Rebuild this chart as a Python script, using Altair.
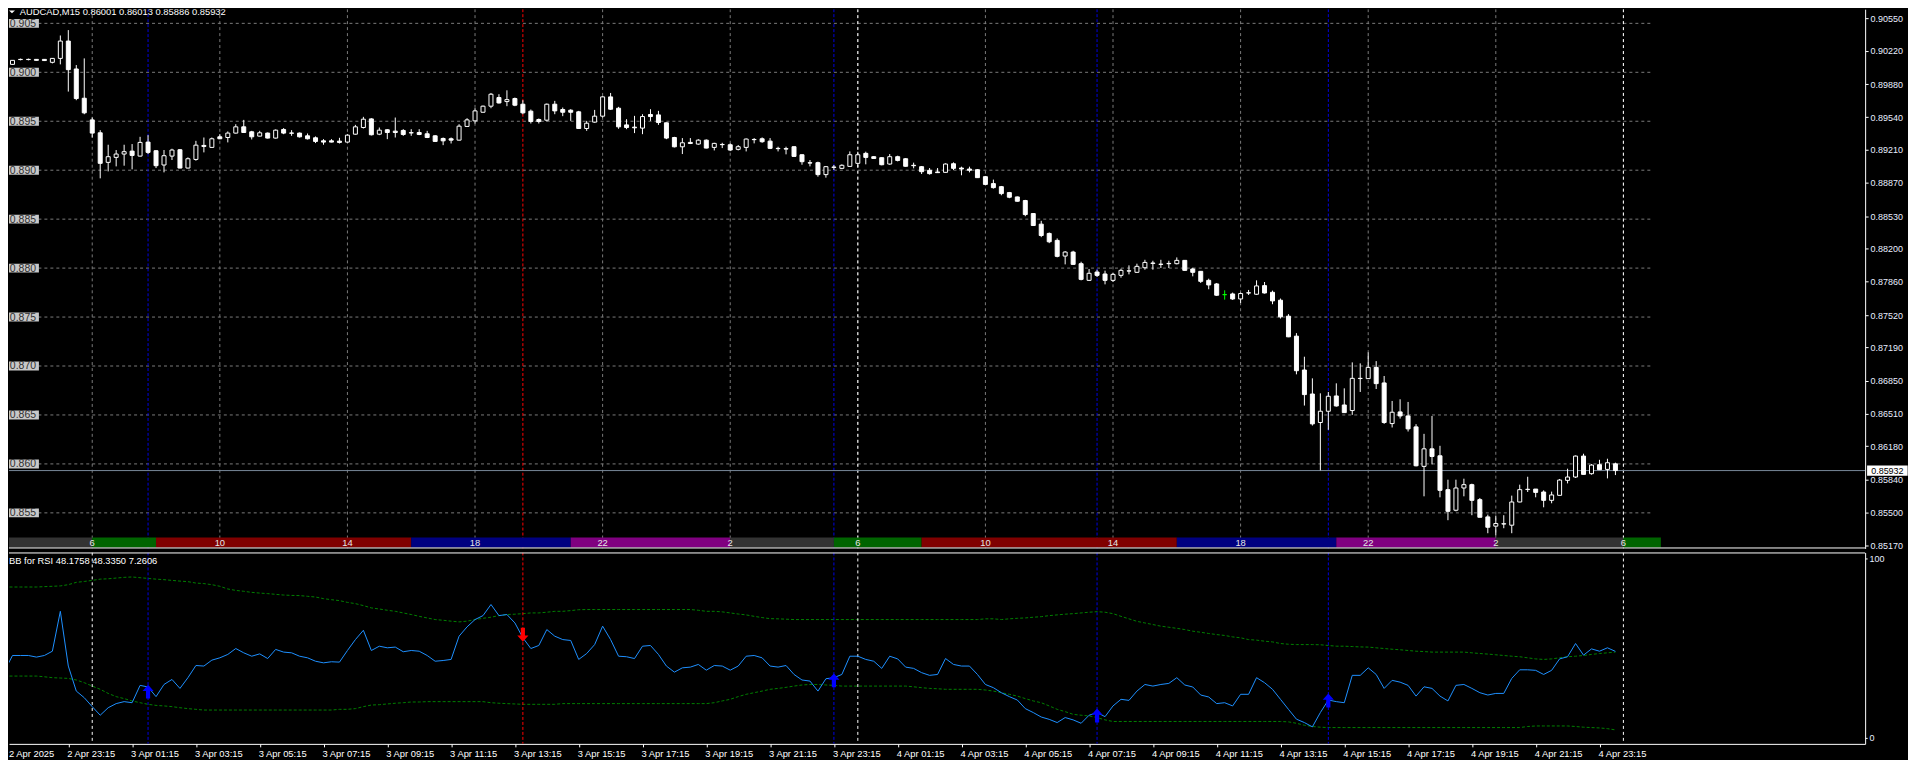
import altair as alt
import pandas as pd

# ---------------- data ----------------
opens = [
0.90115, 0.90081, 0.90130, 0.90132, 0.90132, 0.90132, 0.90102, 0.90142, 0.90319, 0.90034,
0.89735, 0.89514, 0.89382, 0.89080, 0.89131, 0.89165, 0.89195, 0.89144, 0.89287, 0.89199,
0.89053, 0.89144, 0.89209, 0.89022, 0.89110, 0.89253, 0.89233, 0.89341, 0.89334, 0.89379,
0.89443, 0.89392, 0.89348, 0.89379, 0.89328, 0.89416, 0.89380, 0.89379, 0.89351, 0.89331,
0.89300, 0.89300, 0.89297, 0.89287, 0.89368, 0.89436, 0.89524, 0.89368, 0.89413, 0.89399,
0.89406, 0.89383, 0.89385, 0.89372, 0.89351, 0.89324, 0.89321, 0.89307, 0.89447, 0.89504,
0.89592, 0.89654, 0.89742, 0.89701, 0.89732, 0.89674, 0.89603, 0.89518, 0.89511, 0.89674,
0.89620, 0.89613, 0.89596, 0.89426, 0.89491, 0.89552, 0.89749, 0.89633, 0.89463, 0.89440,
0.89430, 0.89569, 0.89565, 0.89484, 0.89334, 0.89239, 0.89284, 0.89267, 0.89307, 0.89233,
0.89263, 0.89260, 0.89213, 0.89233, 0.89314, 0.89321, 0.89297, 0.89223, 0.89220, 0.89240,
0.89158, 0.89076, 0.89077, 0.88955, 0.89029, 0.89019, 0.89039, 0.89070, 0.89172, 0.89138,
0.89128, 0.89063, 0.89138, 0.89117, 0.89050, 0.89036, 0.88999, 0.88982, 0.88978, 0.89066,
0.89022, 0.89012, 0.89005, 0.88934, 0.88863, 0.88832, 0.88771, 0.88727, 0.88690, 0.88557,
0.88449, 0.88354, 0.88283, 0.88123, 0.88164, 0.88045, 0.87875, 0.87960, 0.87940, 0.87875,
0.87926, 0.87970, 0.87957, 0.88004, 0.88048, 0.88040, 0.88045, 0.88045, 0.88079, 0.87991,
0.87967, 0.87875, 0.87838, 0.87729, 0.87736, 0.87685, 0.87746, 0.87733, 0.87821, 0.87753,
0.87672, 0.87509, 0.87305, 0.86959, 0.86714, 0.86423, 0.86538, 0.86694, 0.86602, 0.86545,
0.86874, 0.86871, 0.86986, 0.86827, 0.86412, 0.86531, 0.86490, 0.86378, 0.85975, 0.86154,
0.86083, 0.85737, 0.85527, 0.85754, 0.85788, 0.85635, 0.85459, 0.85364, 0.85386, 0.85374,
0.85611, 0.85738, 0.85743, 0.85713, 0.85628, 0.85679, 0.85832, 0.85866, 0.86080, 0.85900,
0.85992, 0.85944, 0.86001]

highs = [
0.90120, 0.90125, 0.90140, 0.90140, 0.90135, 0.90135, 0.90145, 0.90376, 0.90431, 0.90074,
0.90142, 0.89538, 0.89409, 0.89260, 0.89206, 0.89260, 0.89267, 0.89341, 0.89358, 0.89206,
0.89206, 0.89219, 0.89216, 0.89131, 0.89300, 0.89334, 0.89334, 0.89368, 0.89396, 0.89470,
0.89514, 0.89402, 0.89402, 0.89385, 0.89416, 0.89430, 0.89409, 0.89385, 0.89375, 0.89345,
0.89317, 0.89317, 0.89331, 0.89368, 0.89463, 0.89545, 0.89531, 0.89436, 0.89419, 0.89538,
0.89419, 0.89419, 0.89419, 0.89402, 0.89358, 0.89334, 0.89334, 0.89470, 0.89531, 0.89633,
0.89660, 0.89789, 0.89776, 0.89816, 0.89742, 0.89715, 0.89620, 0.89528, 0.89681, 0.89708,
0.89640, 0.89623, 0.89606, 0.89504, 0.89616, 0.89755, 0.89789, 0.89647, 0.89521, 0.89555,
0.89572, 0.89623, 0.89606, 0.89487, 0.89341, 0.89328, 0.89328, 0.89317, 0.89314, 0.89280,
0.89280, 0.89274, 0.89257, 0.89324, 0.89328, 0.89335, 0.89328, 0.89240, 0.89240, 0.89244,
0.89162, 0.89104, 0.89087, 0.89043, 0.89053, 0.89060, 0.89192, 0.89189, 0.89189, 0.89145,
0.89131, 0.89165, 0.89148, 0.89124, 0.89077, 0.89043, 0.89022, 0.89022, 0.89070, 0.89080,
0.89036, 0.89036, 0.89012, 0.88941, 0.88904, 0.88839, 0.88778, 0.88731, 0.88697, 0.88561,
0.88483, 0.88364, 0.88303, 0.88174, 0.88177, 0.88065, 0.87991, 0.87984, 0.87974, 0.87950,
0.87994, 0.88028, 0.88045, 0.88085, 0.88075, 0.88085, 0.88075, 0.88109, 0.88082, 0.88004,
0.87970, 0.87892, 0.87848, 0.87773, 0.87750, 0.87750, 0.87777, 0.87875, 0.87858, 0.87770,
0.87689, 0.87530, 0.87336, 0.87095, 0.86874, 0.86721, 0.86735, 0.86823, 0.86772, 0.87037,
0.87027, 0.87139, 0.87050, 0.86898, 0.86643, 0.86660, 0.86633, 0.86406, 0.86307, 0.86490,
0.86185, 0.85839, 0.85839, 0.85849, 0.85798, 0.85652, 0.85482, 0.85472, 0.85476, 0.85676,
0.85788, 0.85869, 0.85743, 0.85730, 0.85717, 0.85846, 0.85951, 0.86086, 0.86104, 0.85998,
0.86042, 0.86053, 0.86013]

lows = [
0.90090, 0.90078, 0.90122, 0.90122, 0.90120, 0.90115, 0.90091, 0.90081, 0.89803, 0.89715,
0.89572, 0.89334, 0.88917, 0.88988, 0.89039, 0.89046, 0.89009, 0.89141, 0.89165, 0.89022,
0.88978, 0.89104, 0.89019, 0.89019, 0.89097, 0.89182, 0.89233, 0.89317, 0.89284, 0.89375,
0.89382, 0.89314, 0.89345, 0.89324, 0.89324, 0.89368, 0.89351, 0.89334, 0.89314, 0.89277,
0.89260, 0.89284, 0.89273, 0.89284, 0.89362, 0.89426, 0.89355, 0.89358, 0.89317, 0.89334,
0.89351, 0.89351, 0.89358, 0.89328, 0.89290, 0.89256, 0.89273, 0.89304, 0.89443, 0.89477,
0.89589, 0.89633, 0.89681, 0.89654, 0.89654, 0.89572, 0.89477, 0.89477, 0.89497, 0.89572,
0.89552, 0.89504, 0.89423, 0.89402, 0.89484, 0.89538, 0.89616, 0.89423, 0.89419, 0.89379,
0.89368, 0.89504, 0.89463, 0.89317, 0.89233, 0.89165, 0.89267, 0.89260, 0.89223, 0.89202,
0.89226, 0.89195, 0.89202, 0.89192, 0.89274, 0.89280, 0.89216, 0.89192, 0.89162, 0.89138,
0.89056, 0.89039, 0.88934, 0.88924, 0.89002, 0.89012, 0.89036, 0.89029, 0.89060, 0.89118,
0.89050, 0.89056, 0.89090, 0.89036, 0.89019, 0.88961, 0.88955, 0.88972, 0.88975, 0.89002,
0.88948, 0.88978, 0.88921, 0.88848, 0.88812, 0.88744, 0.88714, 0.88680, 0.88530, 0.88432,
0.88316, 0.88255, 0.88110, 0.88038, 0.88035, 0.87875, 0.87868, 0.87909, 0.87834, 0.87858,
0.87902, 0.87936, 0.87950, 0.87984, 0.87984, 0.88001, 0.88001, 0.88038, 0.87974, 0.87916,
0.87848, 0.87784, 0.87716, 0.87678, 0.87675, 0.87644, 0.87726, 0.87726, 0.87740, 0.87631,
0.87485, 0.87295, 0.86915, 0.86596, 0.86392, 0.85934, 0.86348, 0.86585, 0.86524, 0.86501,
0.86735, 0.86871, 0.86765, 0.86409, 0.86372, 0.86463, 0.86331, 0.85975, 0.85669, 0.85995,
0.85659, 0.85425, 0.85516, 0.85669, 0.85476, 0.85455, 0.85292, 0.85269, 0.85343, 0.85292,
0.85608, 0.85713, 0.85659, 0.85557, 0.85598, 0.85679, 0.85801, 0.85856, 0.85893, 0.85890,
0.85941, 0.85852, 0.85886]

closes = [
0.90100, 0.90122, 0.90132, 0.90130, 0.90122, 0.90120, 0.90142, 0.90319, 0.90027, 0.89732,
0.89586, 0.89379, 0.89070, 0.89138, 0.89165, 0.89189, 0.89151, 0.89284, 0.89182, 0.89046,
0.89148, 0.89206, 0.89022, 0.89117, 0.89256, 0.89243, 0.89321, 0.89321, 0.89379, 0.89443,
0.89385, 0.89341, 0.89382, 0.89328, 0.89409, 0.89379, 0.89378, 0.89341, 0.89321, 0.89294,
0.89287, 0.89287, 0.89284, 0.89358, 0.89443, 0.89521, 0.89362, 0.89409, 0.89385, 0.89385,
0.89365, 0.89381, 0.89365, 0.89334, 0.89294, 0.89300, 0.89307, 0.89450, 0.89514, 0.89606,
0.89654, 0.89776, 0.89687, 0.89721, 0.89664, 0.89586, 0.89497, 0.89497, 0.89674, 0.89606,
0.89592, 0.89592, 0.89426, 0.89480, 0.89552, 0.89749, 0.89623, 0.89443, 0.89436, 0.89433,
0.89548, 0.89548, 0.89487, 0.89328, 0.89239, 0.89280, 0.89273, 0.89307, 0.89226, 0.89274,
0.89261, 0.89206, 0.89240, 0.89318, 0.89312, 0.89291, 0.89223, 0.89220, 0.89216, 0.89141,
0.89087, 0.89073, 0.88955, 0.89036, 0.89032, 0.89050, 0.89158, 0.89158, 0.89131, 0.89120,
0.89056, 0.89138, 0.89100, 0.89040, 0.89046, 0.88985, 0.88965, 0.88975, 0.89063, 0.89019,
0.89012, 0.88999, 0.88924, 0.88855, 0.88822, 0.88761, 0.88724, 0.88683, 0.88547, 0.88435,
0.88333, 0.88269, 0.88120, 0.88164, 0.88038, 0.87885, 0.87947, 0.87926, 0.87875, 0.87936,
0.87977, 0.87972, 0.88018, 0.88058, 0.88052, 0.88038, 0.88048, 0.88079, 0.87977, 0.87957,
0.87865, 0.87828, 0.87723, 0.87729, 0.87685, 0.87740, 0.87748, 0.87818, 0.87746, 0.87665,
0.87502, 0.87298, 0.86952, 0.86708, 0.86409, 0.86538, 0.86691, 0.86592, 0.86524, 0.86874,
0.86872, 0.86986, 0.86820, 0.86423, 0.86528, 0.86490, 0.86358, 0.85981, 0.86154, 0.86076,
0.85730, 0.85516, 0.85754, 0.85788, 0.85628, 0.85455, 0.85353, 0.85391, 0.85389, 0.85611,
0.85737, 0.85741, 0.85709, 0.85628, 0.85683, 0.85835, 0.85866, 0.86080, 0.85893, 0.85988,
0.85941, 0.86012, 0.85932]

rsi = [
37.2, 45.9, 45.9, 45.9, 45.0, 45.9, 48.3, 70.6, 40.0, 26.0,
22.3, 17.3, 12.5, 16.7, 19.0, 20.1, 19.5, 29.2, 28.3, 22.9,
29.7, 32.5, 27.5, 33.5, 40.3, 40.0, 43.3, 44.6, 46.5, 49.8,
47.4, 45.5, 46.8, 44.2, 49.3, 47.8, 47.4, 45.5, 44.6, 42.7,
41.8, 42.4, 42.2, 48.7, 54.8, 60.0, 48.7, 51.1, 50.2, 50.6,
48.0, 48.7, 48.3, 45.9, 42.7, 43.1, 43.7, 56.7, 61.9, 66.0,
68.2, 74.4, 68.2, 68.8, 64.1, 55.8, 49.8, 51.5, 60.4, 56.7,
54.8, 54.3, 43.7, 47.0, 52.0, 62.3, 54.8, 45.5, 45.2, 44.2,
51.1, 51.5, 46.5, 40.0, 36.6, 39.0, 39.4, 40.9, 37.7, 40.3,
40.0, 37.7, 40.0, 45.5, 45.9, 44.6, 40.0, 39.4, 40.3, 35.3,
32.2, 31.6, 26.0, 32.9, 33.5, 35.3, 45.5, 45.5, 43.7, 42.7,
38.7, 45.5, 44.0, 39.4, 38.7, 36.3, 34.8, 35.3, 44.2, 40.9,
40.0, 40.0, 35.3, 29.7, 27.9, 25.1, 22.9, 21.0, 16.2, 14.0,
11.5, 10.2, 8.4, 11.2, 9.9, 8.0, 12.5, 14.0, 11.7, 17.7,
21.4, 20.8, 26.0, 29.7, 28.8, 29.7, 30.3, 33.5, 29.4, 28.3,
23.8, 22.7, 19.0, 19.5, 17.7, 24.2, 24.2, 33.5, 30.7, 27.0,
21.4, 15.8, 10.3, 8.4, 6.0, 14.0, 21.0, 20.1, 19.5, 34.8,
34.8, 39.0, 35.3, 27.5, 32.0, 31.0, 29.2, 23.2, 28.4, 27.5,
23.2, 20.5, 29.2, 29.7, 27.5, 25.1, 23.8, 24.7, 24.7, 33.1,
37.9, 37.9, 37.6, 35.3, 37.6, 44.0, 45.2, 52.6, 46.1, 49.6,
48.3, 50.2, 48.2]

bb_upper = [
84.2, 84.2, 84.2, 84.2, 84.2, 84.4, 84.6, 84.8, 85.5, 86.8,
87.3, 87.9, 88.6, 88.8, 89.2, 89.6, 89.8, 89.4, 89.0, 88.6,
88.3, 87.9, 87.5, 87.2, 86.4, 86.1, 85.5, 84.6, 83.1, 82.3,
81.8, 81.2, 80.8, 80.5, 80.1, 79.7, 79.5, 79.4, 79.0, 78.6,
77.7, 77.1, 76.6, 75.6, 74.9, 73.8, 72.5, 71.9, 71.2, 70.6,
69.7, 68.8, 67.8, 66.9, 66.0, 65.6, 65.1, 64.7, 65.1, 66.0,
66.7, 67.3, 68.2, 68.8, 69.0, 69.3, 69.7, 69.7, 70.1, 70.6,
70.6, 71.0, 71.5, 71.6, 71.6, 71.6, 71.6, 71.6, 71.6, 71.6,
71.6, 71.6, 71.6, 71.6, 71.6, 71.6, 71.6, 71.2, 70.6, 70.6,
70.3, 69.7, 69.1, 68.6, 67.8, 67.1, 66.5, 66.4, 66.2, 66.0,
66.0, 66.0, 66.0, 66.0, 66.0, 66.0, 66.0, 66.0, 66.0, 66.0,
66.0, 66.0, 66.0, 66.0, 66.0, 66.0, 66.0, 66.0, 66.0, 66.0,
66.0, 66.0, 66.0, 66.4, 66.4, 66.0, 66.4, 66.7, 66.9, 67.3,
67.6, 68.2, 68.6, 69.0, 69.3, 69.7, 70.1, 70.4, 70.1, 69.3,
67.8, 66.4, 65.0, 64.1, 63.2, 62.3, 61.7, 61.1, 60.4, 59.5,
58.9, 58.2, 57.6, 57.1, 56.3, 55.8, 54.8, 54.5, 53.9, 53.5,
52.6, 52.2, 52.0, 52.0, 52.0, 51.9, 51.5, 51.1, 51.1, 50.9,
50.7, 50.6, 50.2, 49.8, 49.4, 49.1, 48.7, 48.3, 48.1, 47.8,
47.8, 47.8, 47.8, 47.8, 47.4, 47.0, 46.7, 46.3, 45.9, 45.5,
45.2, 44.6, 44.0, 43.7, 44.0, 44.6, 45.2, 45.5, 45.9, 46.5,
47.0, 47.4, 47.8]

bb_lower = [
34.4, 34.4, 34.4, 34.4, 34.4, 34.0, 33.5, 33.3, 33.1, 32.2,
30.7, 28.8, 27.0, 24.7, 22.9, 21.8, 20.5, 19.5, 18.6, 18.0,
17.7, 17.3, 16.7, 16.2, 15.8, 15.4, 15.4, 15.4, 15.4, 15.4,
15.4, 15.4, 15.4, 15.4, 15.4, 15.4, 15.4, 15.4, 15.4, 15.4,
15.4, 15.4, 15.8, 15.8, 16.2, 17.3, 18.2, 18.4, 18.8, 19.2,
19.5, 19.9, 19.9, 20.1, 20.1, 20.1, 20.1, 20.1, 20.1, 20.1,
20.1, 19.5, 19.2, 19.0, 18.8, 18.6, 18.6, 18.6, 18.6, 18.6,
19.0, 19.0, 19.0, 19.0, 19.0, 19.0, 19.0, 19.0, 19.0, 19.0,
19.0, 19.0, 19.0, 19.0, 19.0, 19.0, 19.0, 19.0, 19.0, 19.5,
20.5, 21.4, 22.9, 24.2, 25.1, 26.0, 27.0, 27.5, 28.1, 28.8,
29.4, 29.7, 29.7, 29.4, 29.2, 28.8, 28.8, 28.8, 28.8, 28.8,
28.8, 28.8, 28.8, 28.8, 28.4, 27.9, 27.5, 27.3, 27.0, 27.0,
27.0, 27.0, 27.0, 26.6, 26.0, 25.1, 24.2, 23.2, 21.8, 20.5,
19.5, 17.7, 15.8, 14.5, 13.0, 12.5, 12.1, 11.2, 9.9, 9.0,
9.0, 9.0, 9.0, 9.0, 9.0, 9.0, 9.0, 9.0, 9.0, 9.0,
9.0, 9.0, 9.0, 9.0, 9.0, 9.0, 9.0, 9.0, 9.0, 9.0,
9.0, 8.8, 8.0, 6.9, 6.2, 5.8, 5.6, 5.6, 5.6, 5.6,
5.6, 5.6, 5.6, 5.6, 5.6, 5.6, 5.6, 5.6, 5.6, 5.6,
5.6, 5.6, 5.6, 5.6, 5.6, 5.6, 5.6, 5.6, 5.6, 5.6,
5.6, 6.2, 6.5, 6.5, 6.5, 6.5, 6.5, 6.2, 5.8, 5.6,
5.4, 5.0, 4.3]

buy_idx = [18, 104, 137, 166]
buy_level = [25.7, 32.0, 12.4, 20.7]
sell_idx = [65]
sell_level = [57.5]

day_sep_idx = [11, 107, 203]
grid_idx = [11, 27, 43, 59, 75, 91, 107, 123, 139, 155, 171, 187, 203]
grid_levels = [0.905, 0.900, 0.895, 0.890, 0.885, 0.880, 0.875, 0.870, 0.865, 0.860, 0.855]
grid_texts = ["0.905", "0.900", "0.895", "0.890", "0.885", "0.880", "0.875", "0.870", "0.865", "0.860", "0.855"]

right_ticks = [0.9055, 0.9022, 0.8988, 0.8954, 0.8921, 0.8887, 0.8853, 0.8820, 0.8786,
               0.8752, 0.8719, 0.8685, 0.8651, 0.8618, 0.8584, 0.8550, 0.8517]
bid_price = 0.85932

sess_start = [-1, 11, 19, 51, 71, 91, 104, 115, 147, 167, 187, 203]
sess_end = [11, 19, 51, 71, 91, 104, 115, 147, 167, 187, 203, 207.7]
sess_color = ["#333333", "#006400", "#800000", "#000080", "#800080", "#333333",
              "#006400", "#800000", "#000080", "#800080", "#333333", "#006400"]
sess_label_idx = grid_idx
sess_label_txt = ["6", "10", "14", "18", "22", "2", "6", "10", "14", "18", "22", "2", "6"]

time_idx = [0, 8, 16, 24, 32, 40, 48, 56, 64, 72, 80, 88, 96, 104, 112, 120, 128,
            136, 144, 152, 160, 168, 176, 184, 192, 200]
time_txt = ["2 Apr 2025", "2 Apr 23:15", "3 Apr 01:15", "3 Apr 03:15", "3 Apr 05:15",
            "3 Apr 07:15", "3 Apr 09:15", "3 Apr 11:15", "3 Apr 13:15", "3 Apr 15:15",
            "3 Apr 17:15", "3 Apr 19:15", "3 Apr 21:15", "3 Apr 23:15", "4 Apr 01:15",
            "4 Apr 03:15", "4 Apr 05:15", "4 Apr 07:15", "4 Apr 09:15", "4 Apr 11:15",
            "4 Apr 13:15", "4 Apr 15:15", "4 Apr 17:15", "4 Apr 19:15", "4 Apr 21:15",
            "4 Apr 23:15"]

title_txt = "AUDCAD,M15  0.86001 0.86013 0.85886 0.85932"
rsi_title = "BB for RSI 48.1758 48.3350 7.2606"

# ---------------- layout ----------------
FONT = "Liberation Sans"
W = 1862
HP = 541
HR = 192
X_MIN = 0.5625
X_MAX = X_MIN + W / 8.0
P_MIN, P_MAX = 0.851362, 0.906447
R_MIN, R_MAX = -3.51, 103.51

xsc = alt.Scale(domain=[X_MIN, X_MAX], nice=False, zero=False)
psc = alt.Scale(domain=[P_MIN, P_MAX], nice=False, zero=False)
rsc = alt.Scale(domain=[R_MIN, R_MAX], nice=False, zero=False)

P_AXIS = alt.Axis(
    orient="right", values=right_ticks, format=".5f", labelFont=FONT,
    labelFontSize=9, labelColor="#E8EEFF", tickColor="#FFFFFF", tickSize=3,
    domainColor="#FFFFFF", domainWidth=1, labelPadding=2, grid=False, title=None,
    labelOverlap=False, labelFlush=False, labelBound=False)
R_AXIS = alt.Axis(
    orient="right", values=[0, 100], format="d", labelFont=FONT, labelFontSize=9,
    labelColor="#E8EEFF", tickColor="#FFFFFF", tickSize=2, domainColor="#FFFFFF",
    domainWidth=1, labelPadding=2, grid=False, title=None, labelOverlap=False,
    labelFlush=False, labelBound=False)
T_AXIS = alt.Axis(
    orient="bottom", values=time_idx[1:], labels=False, tickColor="#FFFFFF", tickSize=3,
    domainColor="#FFFFFF", domainWidth=1, grid=False, title=None)

n = len(opens)
cd = pd.DataFrame({"i": list(range(n)), "o": opens, "h": highs, "l": lows, "c": closes})
cd["x1"] = cd["i"] - 0.25
cd["x2"] = cd["i"] + 0.25
cd["fillc"] = ["#FFFFFF" if c < o else "#000000" for o, c in zip(opens, closes)]
cd["linec"] = ["#00FF00" if c == o else "#FFFFFF" for o, c in zip(opens, closes)]

XP = lambda f: alt.X(f, scale=xsc, axis=None)
XR = lambda f: alt.X(f, scale=xsc, axis=T_AXIS)
YP = lambda f: alt.Y(f, scale=psc, axis=P_AXIS)
YR = lambda f: alt.Y(f, scale=rsc, axis=R_AXIS)

# ---- price panel ----
hgrid = alt.Chart(pd.DataFrame({"p": grid_levels, "a": [-1] * len(grid_levels),
                                "b": [206.7] * len(grid_levels)})).mark_rule(
    color="#7A7A7A", strokeDash=[3, 3], strokeWidth=1, clip=True
).encode(x=XP("a:Q"), x2="b:Q", y=YP("p:Q"))

vgrid = alt.Chart(pd.DataFrame({"i": grid_idx})).mark_rule(
    color="#7A7A7A", strokeDash=[3, 3], strokeWidth=1, clip=True
).encode(x=XP("i:Q"), y=alt.value(0), y2=alt.value(HP))

dsep_p = alt.Chart(pd.DataFrame({"i": day_sep_idx[1:]})).mark_rule(
    color="#FFFFFF", strokeDash=[3, 3], strokeWidth=1, clip=True
).encode(x=XP("i:Q"), y=alt.value(0), y2=alt.value(HP))

sig = pd.DataFrame({"i": buy_idx + sell_idx,
                    "col": ["#0000E0"] * len(buy_idx) + ["#FF0000"] * len(sell_idx)})
sig_p = alt.Chart(sig).mark_rule(strokeDash=[3, 2], strokeWidth=1, clip=True).encode(
    x=XP("i:Q"), y=alt.value(0), y2=alt.value(HP), color=alt.Color("col:N", scale=None))

bid_line = alt.Chart(pd.DataFrame({"p": [bid_price]})).mark_rule(
    color="#778899", strokeWidth=1, clip=True
).encode(y=YP("p:Q"), x=alt.value(0), x2=alt.value(W))

wicks = alt.Chart(cd).mark_rule(strokeWidth=1, clip=True).encode(
    x=XP("i:Q"), y=YP("l:Q"), y2="h:Q", color=alt.Color("linec:N", scale=None))

bodies = alt.Chart(cd).mark_rect(strokeWidth=1, clip=True).encode(
    x=XP("x1:Q"), x2="x2:Q", y=YP("o:Q"), y2="c:Q",
    fill=alt.Fill("fillc:N", scale=None), stroke=alt.Stroke("linec:N", scale=None))

sess = alt.Chart(pd.DataFrame({"a": sess_start, "b": sess_end, "col": sess_color})).mark_rect(
    clip=True).encode(x=XP("a:Q"), x2="b:Q", y=alt.value(530), y2=alt.value(540),
                      fill=alt.Fill("col:N", scale=None))

sess_lab = alt.Chart(pd.DataFrame({"i": sess_label_idx, "t": sess_label_txt})).mark_text(
    font=FONT, fontSize=9.4, color="#E6E6E6", align="center", baseline="middle", clip=True
).encode(x=XP("i:Q"), y=alt.value(535.5), text="t:N")

BOX = "M-1,-0.28 L1,-0.28 L1,0.28 L-1,0.28 Z"
lbox = alt.Chart(pd.DataFrame({"p": grid_levels})).mark_point(
    shape=BOX, size=1024, filled=True, color="#C8C8C8", opacity=1, strokeWidth=0, clip=True
).encode(y=YP("p:Q"), x=alt.value(14))
ltext = alt.Chart(pd.DataFrame({"p": grid_levels, "t": grid_texts})).mark_text(
    font=FONT, fontSize=10.5, color="#303030", align="center", baseline="middle", dy=0.5,
    clip=True).encode(y=YP("p:Q"), x=alt.value(14), text="t:N")

tri = alt.Chart(pd.DataFrame({"t": [title_txt]})).mark_point(
    shape="M-1,-0.5 L1,-0.5 L0,0.5 Z", size=36, filled=True, color="#FFFFFF", opacity=1,
    strokeWidth=0, clip=True).encode(x=alt.value(3), y=alt.value(2.7))
ttl = alt.Chart(pd.DataFrame({"t": [title_txt]})).mark_text(
    font=FONT, fontSize=9.4, color="#FFFFFF", align="left", baseline="alphabetic", clip=True
).encode(x=alt.value(10.75), y=alt.value(6), text="t:N")

pborder = alt.Chart(pd.DataFrame({"p": [bid_price]})).mark_rule(
    color="#FFFFFF", strokeWidth=1).encode(y=alt.value(HP - 0.5), x=alt.value(0), x2=alt.value(W))

BIDBOX = "M-1,-0.25 L1,-0.25 L1,0.25 L-1,0.25 Z"
bidbox = alt.Chart(pd.DataFrame({"p": [bid_price]})).mark_point(
    shape=BIDBOX, size=1656, filled=True, color="#FFFFFF", opacity=1, strokeWidth=0
).encode(y=YP("p:Q"), x=alt.value(W + 22.3))
bidtxt = alt.Chart(pd.DataFrame({"p": [bid_price], "t": ["%.5f" % bid_price]})).mark_text(
    font=FONT, fontSize=9, color="#000000", align="center", baseline="middle", dy=0.5
).encode(y=YP("p:Q"), x=alt.value(W + 22.3), text="t:N")

price = alt.layer(hgrid, vgrid, dsep_p, sig_p, bid_line, wicks, bodies, sess, sess_lab,
                  lbox, ltext, tri, ttl, pborder, bidbox, bidtxt).properties(width=W, height=HP)

# ---- RSI panel ----
rd = pd.DataFrame({"i": list(range(n)), "rsi": rsi, "up": bb_upper, "lo": bb_lower})

dsep_r = alt.Chart(pd.DataFrame({"i": day_sep_idx})).mark_rule(
    color="#FFFFFF", strokeDash=[3, 3], strokeWidth=1, clip=True
).encode(x=XR("i:Q"), y=alt.value(0), y2=alt.value(HR))
sig_r = alt.Chart(sig).mark_rule(strokeDash=[3, 2], strokeWidth=1, clip=True).encode(
    x=XR("i:Q"), y=alt.value(0), y2=alt.value(HR), color=alt.Color("col:N", scale=None))

band_up = alt.Chart(rd).mark_line(color="#008000", strokeDash=[3, 2], strokeWidth=1,
                                  clip=True).encode(x=XR("i:Q"), y=YR("up:Q"))
band_lo = alt.Chart(rd).mark_line(color="#008000", strokeDash=[3, 2], strokeWidth=1,
                                  clip=True).encode(x=XR("i:Q"), y=YR("lo:Q"))
rsi_line = alt.Chart(rd).mark_line(color="#1E90FF", strokeWidth=1, clip=True).encode(
    x=XR("i:Q"), y=YR("rsi:Q"))

UP = "M0,-1 L0.8,-0.1 L0.3,-0.1 L0.3,1 L-0.3,1 L-0.3,-0.1 L-0.8,-0.1 Z"
DOWN = "M0,1 L0.8,0.1 L0.3,0.1 L0.3,-1 L-0.3,-1 L-0.3,0.1 L-0.8,0.1 Z"
buy_ar = alt.Chart(pd.DataFrame({"i": buy_idx, "v": buy_level})).mark_point(
    shape=UP, size=196, filled=True, color="#0000FF", opacity=1, strokeWidth=0, clip=True
).encode(x=XR("i:Q"), y=YR("v:Q"))
sell_ar = alt.Chart(pd.DataFrame({"i": sell_idx, "v": sell_level})).mark_point(
    shape=DOWN, size=196, filled=True, color="#FF0000", opacity=1, strokeWidth=0, clip=True
).encode(x=XR("i:Q"), y=YR("v:Q"))

rttl = alt.Chart(pd.DataFrame({"t": [rsi_title]})).mark_text(
    font=FONT, fontSize=9.4, color="#FFFFFF", align="left", baseline="alphabetic"
).encode(x=alt.value(0), y=alt.value(12), text="t:N")

rborder = alt.Chart(pd.DataFrame({"t": [rsi_title]})).mark_rule(
    color="#FFFFFF", strokeWidth=1).encode(y=alt.value(0.5), x=alt.value(0), x2=alt.value(W))

tl = pd.DataFrame({"x": [max(t - 0.125, X_MIN) for t in time_idx], "t": time_txt})
tlab = alt.Chart(tl).mark_text(
    font=FONT, fontSize=9.4, color="#FFFFFF", align="left", baseline="alphabetic"
).encode(x=XR("x:Q"), y=alt.value(HR + 13), text="t:N")

rsi_chart = alt.layer(band_up, band_lo, dsep_r, sig_r, rsi_line, buy_ar, sell_ar, rttl,
                      rborder, tlab).properties(width=W, height=HR)

chart = alt.vconcat(price, rsi_chart, spacing=2).properties(
    padding=0, background="#000000"
).configure_view(stroke=None)

chart.save("out.html", embed_options={"renderer": "svg", "actions": False})
